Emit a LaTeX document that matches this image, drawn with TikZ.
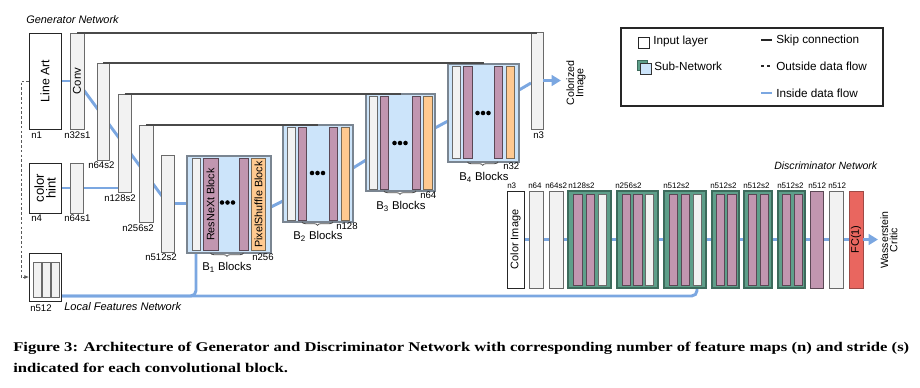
\documentclass[tikz,border=0pt]{standalone}
\usepackage{fontspec}
\setmainfont{Liberation Serif}
\setsansfont{Liberation Sans}
\usetikzlibrary{calc,decorations.pathreplacing,arrows.meta,backgrounds}
\definecolor{gfill}{HTML}{F2F2F2}
\definecolor{gedge}{HTML}{6A6A6A}
\definecolor{bfill}{HTML}{CCE4FA}
\definecolor{bedge}{HTML}{7A8591}
\definecolor{pfill}{HTML}{C196B0}
\definecolor{pedge}{HTML}{5A4855}
\definecolor{ofill}{HTML}{FFC990}
\definecolor{oedge}{HTML}{7A6A55}
\definecolor{tfill}{HTML}{5E9F8A}
\definecolor{tedge}{HTML}{3D6B5C}
\definecolor{rfill}{HTML}{E9665F}
\definecolor{redge}{HTML}{9E4A46}
\definecolor{flowc}{HTML}{7BA7E1}
\definecolor{skipc}{HTML}{4A4A4A}
\newcommand\fsz[1]{\fontsize{#1}{#1}\selectfont}
\newlength\capw
\newcommand\capone{Figure 3: Architecture of Generator and Discriminator Network with corresponding number of feature maps (n) and stride (s)}
\newcommand\captwo{indicated for each convolutional block.}
\begin{document}
\settowidth\capw{\rmfamily\bfseries\fsz{10}\capone}
\pgfmathsetmacro\capf{672/\capw}
\begin{tikzpicture}[x=0.75pt,y=-0.75pt,font=\sffamily,
  sz/.style 2 args={minimum width=#1*0.75pt, minimum height=#2*0.75pt},
  base/.style={rectangle, inner sep=0pt, outer sep=0pt, line width=0.7pt},
  gbox/.style={base, draw=gedge, fill=gfill},
  wbox/.style={base, draw=black!85, fill=white},
  blk/.style={base, draw=bedge, fill=bfill, line width=0.9pt},
  pbar/.style={base, draw=pedge, fill=pfill},
  obar/.style={base, draw=oedge, fill=ofill},
  tbox/.style={base, draw=tedge, fill=tfill, line width=0.9pt},
  rbox/.style={base, draw=redge, fill=rfill},
  skip/.style={draw=skipc, line width=0.9pt},
  flow/.style={draw=flowc, line width=2.2pt},
  flowarrow/.style={flow, -{Triangle[length=7pt,width=8pt]}},
  lab/.style={inner sep=0pt, anchor=west, font=\sffamily\fsz{7.2}},
  dlab/.style={inner sep=0pt, anchor=west, font=\sffamily\fsz{6}},
  blab/.style={inner sep=0pt, anchor=west, font=\sffamily\fsz{8.5}},
  rtxt/.style={inner sep=0pt, rotate=90, align=center},
  ttl/.style={inner sep=0pt, anchor=west, font=\sffamily\itshape\fsz{8.2}},
  leg/.style={inner sep=0pt, anchor=west, font=\sffamily\fsz{8.8}},
  dot/.style={circle, fill=black, inner sep=0pt, minimum size=3.4pt},
  brace/.style={decorate, decoration={brace, mirror, amplitude=2.5pt}, draw=black!70, line width=0.6pt}
]
\useasboundingbox (0,0) rectangle (920,387);

% ---------------- Generator ----------------
\node[ttl] (gentitle) at (26,20) {Generator Network};

\node[wbox, sz={32}{96}] (lineart) at (45,81) {};
\node[rtxt, font=\sffamily\fsz{9.2}] (lineartT) at (lineart) {Line Art};
\node[gbox, sz={14}{96}] (conv) at (77,81) {};
\node[rtxt, font=\sffamily\fsz{8.5}] (convT) at (conv) {Conv};
\node[gbox, sz={12}{97}] (g1) at (103,111.5) {};
\node[gbox, sz={13}{98}] (g2) at (124.5,143) {};
\node[gbox, sz={14}{97}] (g3) at (146,173.5) {};
\node[gbox, sz={13}{97}] (g4) at (167.5,203.5) {};

\node[wbox, sz={32}{50}] (colorhint) at (45,188) {};
\node[rtxt, font=\sffamily\fsz{9.8}, align=center] (colorhintT) at (colorhint) {color\\[-1pt]hint};
\node[gbox, sz={13}{50}] (n64s1) at (76.5,188) {};

\node[wbox, sz={32}{48}] (local) at (45,277) {};
\node[gbox, sz={8}{35}] (lc1) at (37,279.5) {};
\node[gbox, sz={8}{35}] (lc2) at (46,279.5) {};
\node[gbox, sz={8}{35}] (lc3) at (55,279.5) {};

% B1
\node[blk, sz={84}{97}] (b1) at (229,204.5) {};
\node[gbox, sz={8}{92}] (b1g) at (196,204.5) {};
\node[pbar, sz={15}{92}] (b1p1) at (210.5,204.5) {};
\node[rtxt, font=\sffamily\fsz{8.1}] (b1p1T) at (b1p1) {ResNeXt Block};
\node[pbar, sz={9}{92}] (b1p2) at (243.5,204.5) {};
\node[obar, sz={14}{92}] (b1o) at (258.5,204.5) {};
\node[rtxt, font=\sffamily\fsz{8.1}] (b1oT) at (b1o) {PixelShuffle Block};
\node[dot] (b1d1) at (222,202.5) {};
\node[dot] (b1d2) at (227.5,202.5) {};
\node[dot] (b1d3) at (233,202.5) {};

% B2
\node[blk, sz={70}{97}] (b2) at (318,173.5) {};
\node[gbox, sz={8}{93}] (b2g) at (291,173.5) {};
\node[pbar, sz={8}{93}] (b2p1) at (302,173.5) {};
\node[pbar, sz={8}{93}] (b2p2) at (333,173.5) {};
\node[obar, sz={8}{93}] (b2o) at (345.5,173.5) {};
\node[dot] (b2d1) at (312,173) {};
\node[dot] (b2d2) at (317.5,173) {};
\node[dot] (b2d3) at (323,173) {};

% B3
\node[blk, sz={69}{97}] (b3) at (400.5,142.5) {};
\node[gbox, sz={8}{93}] (b3g) at (373,142.5) {};
\node[pbar, sz={8}{93}] (b3p1) at (384,142.5) {};
\node[pbar, sz={8}{93}] (b3p2) at (416,142.5) {};
\node[obar, sz={9}{93}] (b3o) at (427.5,142.5) {};
\node[dot] (b3d1) at (394.5,143) {};
\node[dot] (b3d2) at (400,143) {};
\node[dot] (b3d3) at (405.5,143) {};

% B4
\node[blk, sz={71}{98}] (b4) at (483.5,113) {};
\node[gbox, sz={8}{92}] (b4g) at (456,112) {};
\node[pbar, sz={9}{92}] (b4p1) at (467.5,112) {};
\node[pbar, sz={8}{92}] (b4p2) at (498,112) {};
\node[obar, sz={8}{92}] (b4o) at (510,112) {};
\node[dot] (b4d1) at (477.5,113) {};
\node[dot] (b4d2) at (483,113) {};
\node[dot] (b4d3) at (488.5,113) {};

\node[gbox, sz={12}{97}] (n3) at (537,80.5) {};
\node[rtxt, font=\sffamily\fsz{8}] (colorized) at (576,83) {Colorized\\[-1pt]Image};

% braces
\draw[brace] (b1p1.center |- b1.south) -- (b1p2.center |- b1.south);
\draw[brace] (b2p1.center |- b2.south) -- (b2p2.center |- b2.south);
\draw[brace] (b3p1.center |- b3.south) -- (b3p2.center |- b3.south);
\draw[brace] (b4p1.center |- b4.south) -- (b4p2.center |- b4.south);

% skip connections
\draw[skip] (conv.north) -- (conv.north -| n3.north);
\draw[skip] (g1.north) -- (g1.north -| b4.north);
\draw[skip] (g2.north) -- (g2.north -| b3.north);
\draw[skip] (g3.north) -- (g3.north -| b2.north);

% labels
\node[lab] (l1) at (31,135) {n1};
\node[lab] (l2) at (64,135) {n32s1};
\node[lab] (l3) at (88,165) {n64s2};
\node[lab] (l4) at (104,198) {n128s2};
\node[lab] (l5) at (122,228) {n256s2};
\node[lab] (l6) at (145,257) {n512s2};
\node[lab] (l7) at (31,218) {n4};
\node[lab] (l8) at (64,218) {n64s1};
\node[lab] (l9) at (30,308) {n512};
\node[lab] (l10) at (252,257) {n256};
\node[lab] (l11) at (336,226) {n128};
\node[lab] (l12) at (420,195.5) {n64};
\node[lab] (l13) at (503,166.5) {n32};
\node[lab] (l14) at (533,135) {n3};
\node[blab] (bl1) at (202,267.5) {B\textsubscript{1} Blocks};
\node[blab] (bl2) at (293,236.5) {B\textsubscript{2} Blocks};
\node[blab] (bl3) at (376,206.5) {B\textsubscript{3} Blocks};
\node[blab] (bl4) at (459,177) {B\textsubscript{4} Blocks};
\node[ttl, font=\sffamily\itshape\fsz{8.3}] (localtitle) at (64,307) {Local Features Network};

% ---------------- Discriminator ----------------
\node[ttl, font=\sffamily\itshape\fsz{7.9}] (disctitle) at (774,166) {Discriminator Network};
\node[wbox, sz={17}{97}] (ci) at (515.5,239.5) {};
\node[rtxt, font=\sffamily\fsz{8.2}] (ciT) at (ci) {Color Image};
\node[gbox, sz={14}{97}] (d64) at (536,239.5) {};
\node[gbox, sz={14}{97}] (d64s2) at (556,239.5) {};

\node[tbox, sz={43}{97}] (t1) at (589.5,239.5) {};
\node[pbar, sz={9}{91}] (t1a) at (577.5,239.5) {};
\node[pbar, sz={8}{91}] (t1b) at (590,239.5) {};
\node[gbox, sz={8}{91}] (t1g) at (602,239.5) {};

\node[tbox, sz={41}{97}] (t2) at (637.5,239.5) {};
\node[pbar, sz={8}{91}] (t2a) at (626,239.5) {};
\node[pbar, sz={9}{91}] (t2b) at (637.5,239.5) {};
\node[gbox, sz={8}{91}] (t2g) at (649,239.5) {};

\node[tbox, sz={42}{97}] (t3) at (685,239.5) {};
\node[pbar, sz={8}{91}] (t3a) at (673,239.5) {};
\node[pbar, sz={8}{91}] (t3b) at (685,239.5) {};
\node[gbox, sz={8}{91}] (t3g) at (697,239.5) {};

\node[tbox, sz={27}{97}] (t4) at (725.5,239.5) {};
\node[pbar, sz={8}{91}] (t4a) at (720,239.5) {};
\node[pbar, sz={9}{91}] (t4b) at (731.5,239.5) {};

\node[tbox, sz={28}{97}] (t5) at (758,239.5) {};
\node[pbar, sz={8}{91}] (t5a) at (752,239.5) {};
\node[pbar, sz={8}{91}] (t5b) at (764,239.5) {};

\node[tbox, sz={27}{97}] (t6) at (791.5,239.5) {};
\node[pbar, sz={8}{91}] (t6a) at (786,239.5) {};
\node[pbar, sz={8}{91}] (t6b) at (798,239.5) {};

\node[pbar, sz={13}{97}] (d512p) at (816.5,239.5) {};
\node[gbox, sz={14}{97}] (d512g) at (836,239.5) {};
\node[rbox, sz={14}{97}] (fc) at (856,239.5) {};
\node[rtxt, font=\sffamily\fsz{8.2}] (fcT) at (fc) {FC(1)};
\node[rtxt, font=\sffamily\fsz{7.9}] (critic) at (889,240) {Wasserstein\\[-1pt]Critic};

\node[dlab] (dl1) at (507,186) {n3};
\node[dlab] (dl2) at (528,186) {n64};
\node[dlab] (dl3) at (545,186) {n64s2};
\node[dlab] (dl4) at (568,186) {n128s2};
\node[dlab] (dl5) at (615,186) {n256s2};
\node[dlab] (dl6) at (663,186) {n512s2};
\node[dlab] (dl7) at (710,186) {n512s2};
\node[dlab] (dl8) at (743,186) {n512s2};
\node[dlab] (dl9) at (777,186) {n512s2};
\node[dlab] (dl10) at (808,186) {n512};
\node[dlab] (dl11) at (828,186) {n512};

% ---------------- flows (behind) ----------------
\begin{pgfonlayer}{background}
\draw[flow] (lineart.center) -- (conv.center);
\draw[flow] (conv.center) -- (g4.center) -- (g4.center -| b1.west);
\draw[flow] (colorhint.center) -- (colorhint.center -| g2.center);
\draw[flow] ($(b1.east)+(0,2.5)$) -- ($(b2.west)+(0,27.5)$);
\draw[flow] ($(b2.east)+(0,-5.5)$) -- ($(b3.west)+(0,17.5)$);
\draw[flow] ($(b3.east)+(0,-14.5)$) -- ($(b4.west)+(0,8)$);
\draw[flow] ($(b4.east)+(0,-23)$) -- ($(n3.west)+(0,2.5)$);
\draw[flow, rounded corners=4pt] ($(local.south east)+(0,-5)$) -| (b1g.south);
\draw[flow, rounded corners=4pt] ($(local.south east)+(0,-5)$) -| (t3g.south);
\draw[flow] (ci.center) -- (fc.center);
\end{pgfonlayer}
\draw[flowarrow] (n3.east) -- ++(18,0);
\draw[flowarrow] (fc.east) -- ++(15,0);
\draw[draw=black!65, line width=0.6pt, dash pattern=on 2pt off 1.6pt, -{Latex[length=3.5pt,width=3pt]}]
  (lineart.west) -- ++(-8,0) |- (local.west);

% ---------------- legend ----------------
\node[base, draw=black!85, line width=0.8pt, sz={262}{78}] (legend) at (752,67) {};
\node[wbox, sz={11}{11}] (legin) at (643.5,42.5) {};
\node[leg] (legintxt) at (653,41) {Input layer};
\node[tbox, line width=0.7pt, sz={10}{10}] (legsub1) at (642,65) {};
\node[base, draw=black!80, fill=bfill, sz={11}{11}] (legsub2) at (645.5,68.5) {};
\node[leg] (legsubtxt) at (654,66) {Sub-Network};
\coordinate (ls1) at (761,40);
\coordinate (ls2) at (772,40);
\draw[black!85, line width=0.8pt] (ls1) -- (ls2);
\node[leg] (legskip) at (776,40) {Skip connection};
\coordinate (lo1) at (761,66);
\coordinate (lo2) at (772,66);
\draw[black!85, line width=0.8pt, dash pattern=on 2.2pt off 2.6pt] (lo1) -- (lo2);
\node[leg] (legout) at (776,66) {Outside data flow};
\coordinate (li1) at (761,93);
\coordinate (li2) at (772,93);
\draw[flow] (li1) -- (li2);
\node[leg] (legin2) at (776,93) {Inside data flow};

% ---------------- caption ----------------
\node[inner sep=0pt, anchor=west, font=\rmfamily\bfseries\fsz{10}] (cap1) at (13,348)
  {\scalebox{\capf}[1]{\capone}};
\node[inner sep=0pt, anchor=west, font=\rmfamily\bfseries\fsz{10}] (cap2) at (13,368)
  {\scalebox{\capf}[1]{\captwo}};
\end{tikzpicture}
\end{document}
